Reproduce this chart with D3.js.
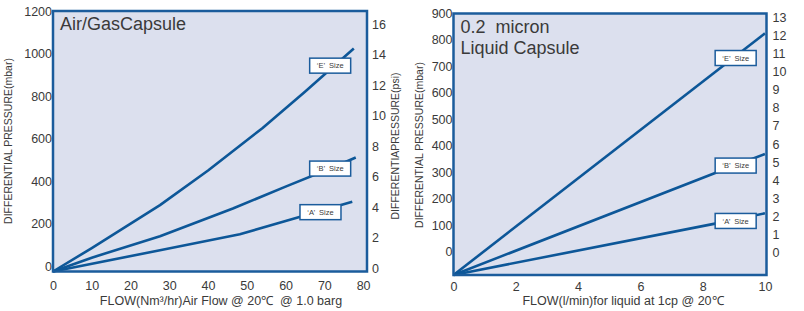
<!DOCTYPE html>
<html>
<head>
<meta charset="utf-8">
<script src="https://cdn.jsdelivr.net/npm/d3@7"></script>
<style>
  body { margin: 0; background: #fff; }
  svg text { font-family: "Liberation Sans", Arial, sans-serif; fill: #3a3a3a; white-space: pre; }
</style>
</head>
<body>
<svg id="chart" width="804" height="311"></svg>
<script>
// ---- data ----
// Air/Gas capsule: flow Nm3/hr vs dP mbar
const airE = [[0, -25], [10, 85], [27.6, 287], [40, 450], [54, 649], [65, 820], [77.6, 1024]];
const airB = [[0, -25], [10, 40], [27.6, 141], [46.4, 271], [60, 374], [72, 463], [78.1, 511]];
const airA = [[0, -25], [27.6, 75], [48.2, 150], [60, 212], [77.2, 303]];
// Liquid capsule: flow l/min vs dP mbar
const liqE = [[0, -87], [10, 825]];
const liqB = [[0, -87], [8.4, 298], [10, 370]];
const liqA = [[0, -87], [8.4, 107], [10, 146]];

const airXTicks = [0, 10, 20, 30, 40, 50, 60, 70, 80];
const airMbarTicks = [0, 200, 400, 600, 800, 1000, 1200];
const airPsiTicks = [0, 2, 4, 6, 8, 10, 12, 14, 16];
const liqXTicks = [0, 2, 4, 6, 8, 10];
const liqMbarTicks = [0, 100, 200, 300, 400, 500, 600, 700, 800, 900];
const liqPsiTicks = [0, 1, 2, 3, 4, 5, 6, 7, 8, 9, 10, 11, 12, 13];

// size labels, anchored in data units [flow, mbar]
const airLabels = [["‘E’  Size", 71.5, 943], ["‘B’  Size", 71.5, 459], ["‘A’  Size", 69, 254]];
const liqLabels = [["‘E’  Size", 9.06, 732], ["‘B’  Size", 9.06, 326], ["‘A’  Size", 9.06, 117]];

const blue = "#0d5798";
const font = "'Liberation Sans', Arial, sans-serif";
const svg = d3.select("#chart");

function panel(o) {
  const g = svg.append("g");
  const x = d3.scaleLinear().domain(o.xDom).range([o.left, o.right]);
  const y = d3.scaleLinear().domain(o.yDom).range([o.bottom, o.top]);
  const y2 = d3.scaleLinear().domain(o.y2Dom).range(o.y2Range);

  g.append("rect")
    .attr("x", o.left).attr("y", o.top)
    .attr("width", o.right - o.left).attr("height", o.bottom - o.top)
    .attr("fill", "#dce0ee");

  const line = d3.line().x(d => x(d[0])).y(d => y(d[1]));
  o.series.forEach(s => {
    g.append("path").datum(s)
      .attr("fill", "none").attr("stroke", blue)
      .attr("stroke-width", 2.6).attr("stroke-linejoin", "round")
      .attr("d", line);
  });

  g.append("rect")
    .attr("x", o.left).attr("y", o.top)
    .attr("width", o.right - o.left).attr("height", o.bottom - o.top)
    .attr("fill", "none").attr("stroke", "#1b5c9c").attr("stroke-width", 2.5);

  // size boxes
  o.labels.forEach(([t, lx, ly]) => {
    const cx = x(lx), cy = y(ly);
    g.append("rect")
      .attr("x", cx - 20.5).attr("y", cy - 7.5)
      .attr("width", 41).attr("height", 15)
      .attr("fill", "#fff").attr("stroke", "#1b5c9c").attr("stroke-width", 1.5);
    g.append("text").attr("x", cx).attr("y", cy + 2.8)
      .attr("text-anchor", "middle").style("font-size", "7.5px").text(t);
  });

  const styleAxis = sel => {
    sel.attr("font-family", font).attr("font-size", 12.5);
    sel.select(".domain").remove();
    sel.selectAll("text").attr("fill", "#3a3a3a");
  };
  const fmt = d3.format("d");

  g.append("g").attr("transform", `translate(${o.left},0)`)
    .call(d3.axisLeft(y).tickValues(o.yTicks).tickFormat(fmt).tickSize(0).tickPadding(1))
    .call(styleAxis);
  g.append("g").attr("transform", `translate(${o.right},0)`)
    .call(d3.axisRight(y2).tickValues(o.y2Ticks).tickFormat(fmt).tickSize(0).tickPadding(o.rPad))
    .call(styleAxis);
  g.append("g").attr("transform", `translate(0,${o.bottom})`)
    .call(d3.axisBottom(x).tickValues(o.xTicks).tickFormat(fmt).tickSize(0).tickPadding(o.bPad))
    .call(styleAxis);

  // titles
  o.title.forEach((t, i) => {
    g.append("text").attr("x", o.left + 7).attr("y", o.top + 19 + i * 21.5)
      .style("font-size", "18px").attr("fill", "#333").text(t);
  });
  g.append("text")
    .attr("x", (o.left + o.right) / 2 + o.xtShift).attr("y", 305)
    .attr("text-anchor", "middle").style("font-size", "12.5px").text(o.xTitle);
  o.yTitles.forEach(([t, tx, ty]) => {
    g.append("text").attr("transform", `translate(${tx},${ty}) rotate(-90)`)
      .attr("text-anchor", "middle").style("font-size", "10.5px").text(t);
  });
}

panel({
  left: 53, right: 367, top: 11, bottom: 271.5,
  xDom: [0, 81], yDom: [-25, 1200], y2Dom: [0, 16], y2Range: [268.5, 24],
  xTicks: airXTicks, yTicks: airMbarTicks, y2Ticks: airPsiTicks,
  rPad: 5, bPad: 10,
  series: [airE, airB, airA], labels: airLabels,
  title: ["Air/GasCapsule"],
  xTitle: "FLOW(Nm³/hr)Air Flow @ 20℃  @ 1.0 barg", xtShift: 11,
  yTitles: [["DIFFERENTIAL PRESSURE(mbar)", 11.5, 141], ["DIFFERENTIAPRESSURE(psi)", 399, 146]]
});

panel({
  left: 453.5, right: 766.5, top: 13.5, bottom: 275,
  xDom: [0, 10.05], yDom: [-87, 900], y2Dom: [0, 13], y2Range: [252.5, 17.5],
  xTicks: liqXTicks, yTicks: liqMbarTicks, y2Ticks: liqPsiTicks,
  rPad: 6, bPad: 7,
  series: [liqE, liqB, liqA], labels: liqLabels,
  title: ["0.2  micron", "Liquid Capsule"],
  xTitle: "FLOW(l/min)for liquid at 1cp @ 20℃", xtShift: 13,
  yTitles: [["DIFFERENTIAL PRESSURE(mbar)", 422.5, 145]]
});
</script>
</body>
</html>
